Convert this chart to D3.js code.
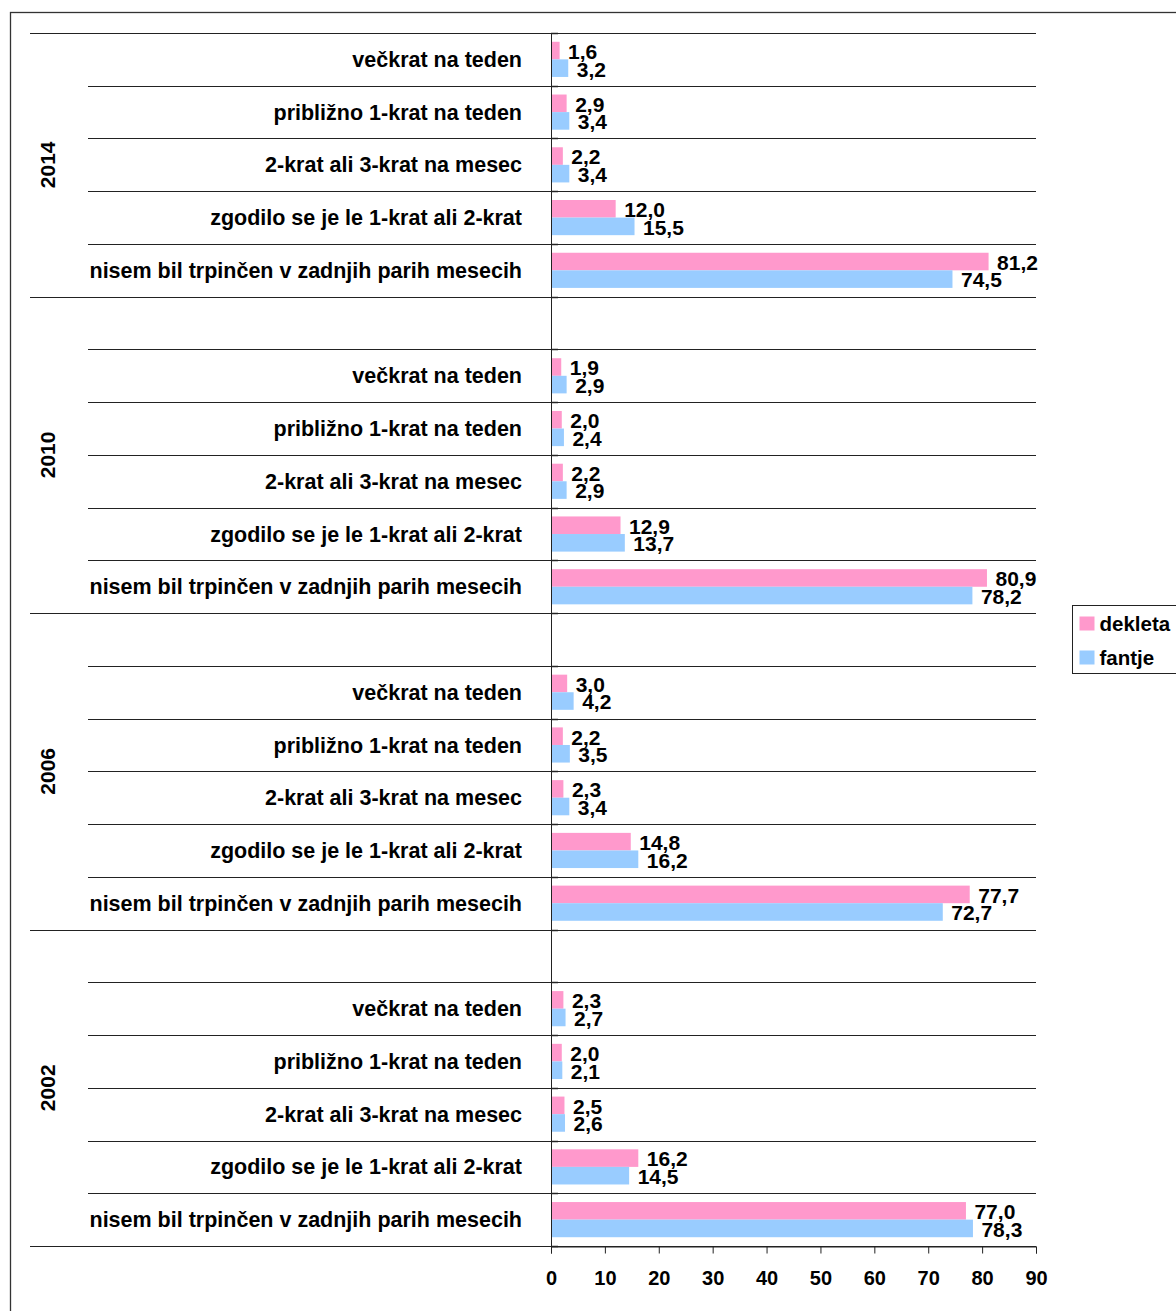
<!DOCTYPE html>
<html>
<head>
<meta charset="utf-8">
<script src="https://cdn.jsdelivr.net/npm/d3@7"></script>
<style>
  body { margin: 0; background: #fff; }
  svg { display: block; font-family: "Liberation Sans", Arial, sans-serif; font-weight: bold; }
</style>
</head>
<body>
<div id="chart"></div>
<script>
// Data (top to bottom)
const years = ["2014", "2010", "2006", "2002"];
const categories = [
    "večkrat na teden",
    "približno 1-krat na teden",
    "2-krat ali 3-krat na mesec",
    "zgodilo se je le 1-krat ali 2-krat",
    "nisem bil trpinčen v zadnjih parih mesecih"
];
const series = ["dekleta", "fantje"];
// one inner array per year, same order as categories
const dekleta = [
    [1.6, 2.9, 2.2, 12.0, 81.2],
    [1.9, 2.0, 2.2, 12.9, 80.9],
    [3.0, 2.2, 2.3, 14.8, 77.7],
    [2.3, 2.0, 2.5, 16.2, 77.0]
];
const fantje = [
    [3.2, 3.4, 3.4, 15.5, 74.5],
    [2.9, 2.4, 2.9, 13.7, 78.2],
    [4.2, 3.5, 3.4, 16.2, 72.7],
    [2.7, 2.1, 2.6, 14.5, 78.3]
];
const xTicks = [0, 10, 20, 30, 40, 50, 60, 70, 80, 90];

const W = 1176, H = 1311;
const plot = {left: 551, right: 1036, top: 33, bottom: 1246};

// Rows: a blank slot before every year group except the first
const rows = [];
years.forEach((yr, i) => {
    if (i > 0) rows.push({key: yr + "-blank", year: yr, blank: true});
    categories.forEach((c, j) => {
        rows.push({key: yr + "-" + j, year: yr, label: c, dekleta: dekleta[i][j], fantje: fantje[i][j]});
    });
});

const color = d3.scaleOrdinal().domain(series).range(["#ff99cc", "#99ccff"]);

const x = d3.scaleLinear().domain([0, 90]).range([plot.left, plot.right]);
const y = d3.scaleBand().domain(rows.map(d => d.key)).range([plot.top, plot.bottom]).padding(0);
const ySub = d3.scaleBand().domain(series).range([0, y.bandwidth()]).paddingInner(0).paddingOuter(0.5);

const fmt = v => d3.format(".1f")(v).replace(".", ",");

const svg = d3.select("#chart").append("svg")
    .attr("width", W)
    .attr("height", H);

// Outer chart border
svg.append("rect")
    .attr("x", 10.5).attr("y", 12.5)
    .attr("width", W + 20).attr("height", H + 20)
    .attr("fill", "none")
    .attr("stroke", "#333")
    .attr("stroke-width", 1.3);

// Category separator lines (long at group boundaries)
const boundaries = [];
rows.forEach((d, i) => {
    const groupStart = i === 0 || rows[i - 1].year !== d.year;
    boundaries.push({y: y(d.key), long: groupStart});
});
boundaries.push({y: plot.bottom, long: true});

svg.append("g")
    .selectAll("line")
    .data(boundaries)
    .join("line")
    .attr("x1", d => d.long ? 30 : 88)
    .attr("x2", plot.right)
    .attr("y1", d => Math.round(d.y) + 0.5)
    .attr("y2", d => Math.round(d.y) + 0.5)
    .attr("stroke", "#222")
    .attr("stroke-width", 1);

// Bars
const dataRows = rows.filter(d => !d.blank);
const rowG = svg.append("g")
    .selectAll("g")
    .data(dataRows)
    .join("g")
    .attr("transform", d => "translate(0," + y(d.key) + ")");

rowG.selectAll("rect")
    .data(d => series.map(s => ({s: s, v: d[s]})))
    .join("rect")
    .attr("x", x(0))
    .attr("y", d => ySub(d.s))
    .attr("width", d => x(d.v) - x(0))
    .attr("height", ySub.bandwidth())
    .attr("fill", d => color(d.s));

// Value labels
rowG.selectAll("text")
    .data(d => series.map(s => ({s: s, v: d[s]})))
    .join("text")
    .attr("x", d => x(d.v) + 8.5)
    .attr("y", d => ySub(d.s) + ySub.bandwidth() / 2 + 1)
    .attr("dy", "0.35em")
    .attr("font-size", 21)
    .attr("fill", "#000")
    .text(d => fmt(d.v));

// Category labels
svg.append("g")
    .selectAll("text")
    .data(dataRows)
    .join("text")
    .attr("x", 522)
    .attr("y", d => y(d.key) + y.bandwidth() / 2)
    .attr("dy", "0.35em")
    .attr("text-anchor", "end")
    .attr("font-size", 21.5)
    .text(d => d.label);

// Year labels, rotated, centred on the group
svg.append("g")
    .selectAll("text")
    .data(years)
    .join("text")
    .attr("transform", yr => {
        const keys = rows.filter(r => r.year === yr);
        const y0 = y(keys[0].key), y1 = y(keys[keys.length - 1].key) + y.bandwidth();
        return "translate(48," + ((y0 + y1) / 2) + ") rotate(-90)";
    })
    .attr("dy", "0.35em")
    .attr("text-anchor", "middle")
    .attr("font-size", 21)
    .text(yr => yr);

// Vertical axis line with short inward ticks
svg.append("line")
    .attr("x1", plot.left + 0.5).attr("x2", plot.left + 0.5)
    .attr("y1", plot.top).attr("y2", plot.bottom + 7)
    .attr("stroke", "#222");
svg.append("g")
    .selectAll("line")
    .data(boundaries)
    .join("line")
    .attr("x1", plot.left).attr("x2", plot.left + 7)
    .attr("y1", d => Math.round(d.y) + 0.5)
    .attr("y2", d => Math.round(d.y) + 0.5)
    .attr("stroke", "#222")
    .attr("stroke-width", 1.5);

// X axis
const xAxis = svg.append("g")
    .attr("transform", "translate(0," + (plot.bottom + 0.5) + ")")
    .call(d3.axisBottom(x).tickValues(xTicks).tickSize(7).tickPadding(17).tickFormat(d3.format("d")));
xAxis.select(".domain").attr("stroke", "#222");
xAxis.selectAll(".tick line").attr("stroke", "#222");
xAxis.selectAll(".tick text")
    .attr("font-size", 20)
    .attr("font-family", "Liberation Sans, Arial, sans-serif")
    .attr("font-weight", "bold")
    .attr("fill", "#000");

// Legend
const legend = svg.append("g").attr("transform", "translate(1072.5,605.5)");
legend.append("rect")
    .attr("width", 130).attr("height", 68)
    .attr("fill", "#fff")
    .attr("stroke", "#222");
const li = legend.selectAll("g.item")
    .data(series)
    .join("g")
    .attr("class", "item")
    .attr("transform", (d, i) => "translate(7," + (11 + i * 34) + ")");
li.append("rect")
    .attr("width", 15).attr("height", 14)
    .attr("fill", color);
li.append("text")
    .attr("x", 20)
    .attr("y", 7)
    .attr("dy", "0.35em")
    .attr("font-size", 20.5)
    .text(d => d);
</script>
</body>
</html>
